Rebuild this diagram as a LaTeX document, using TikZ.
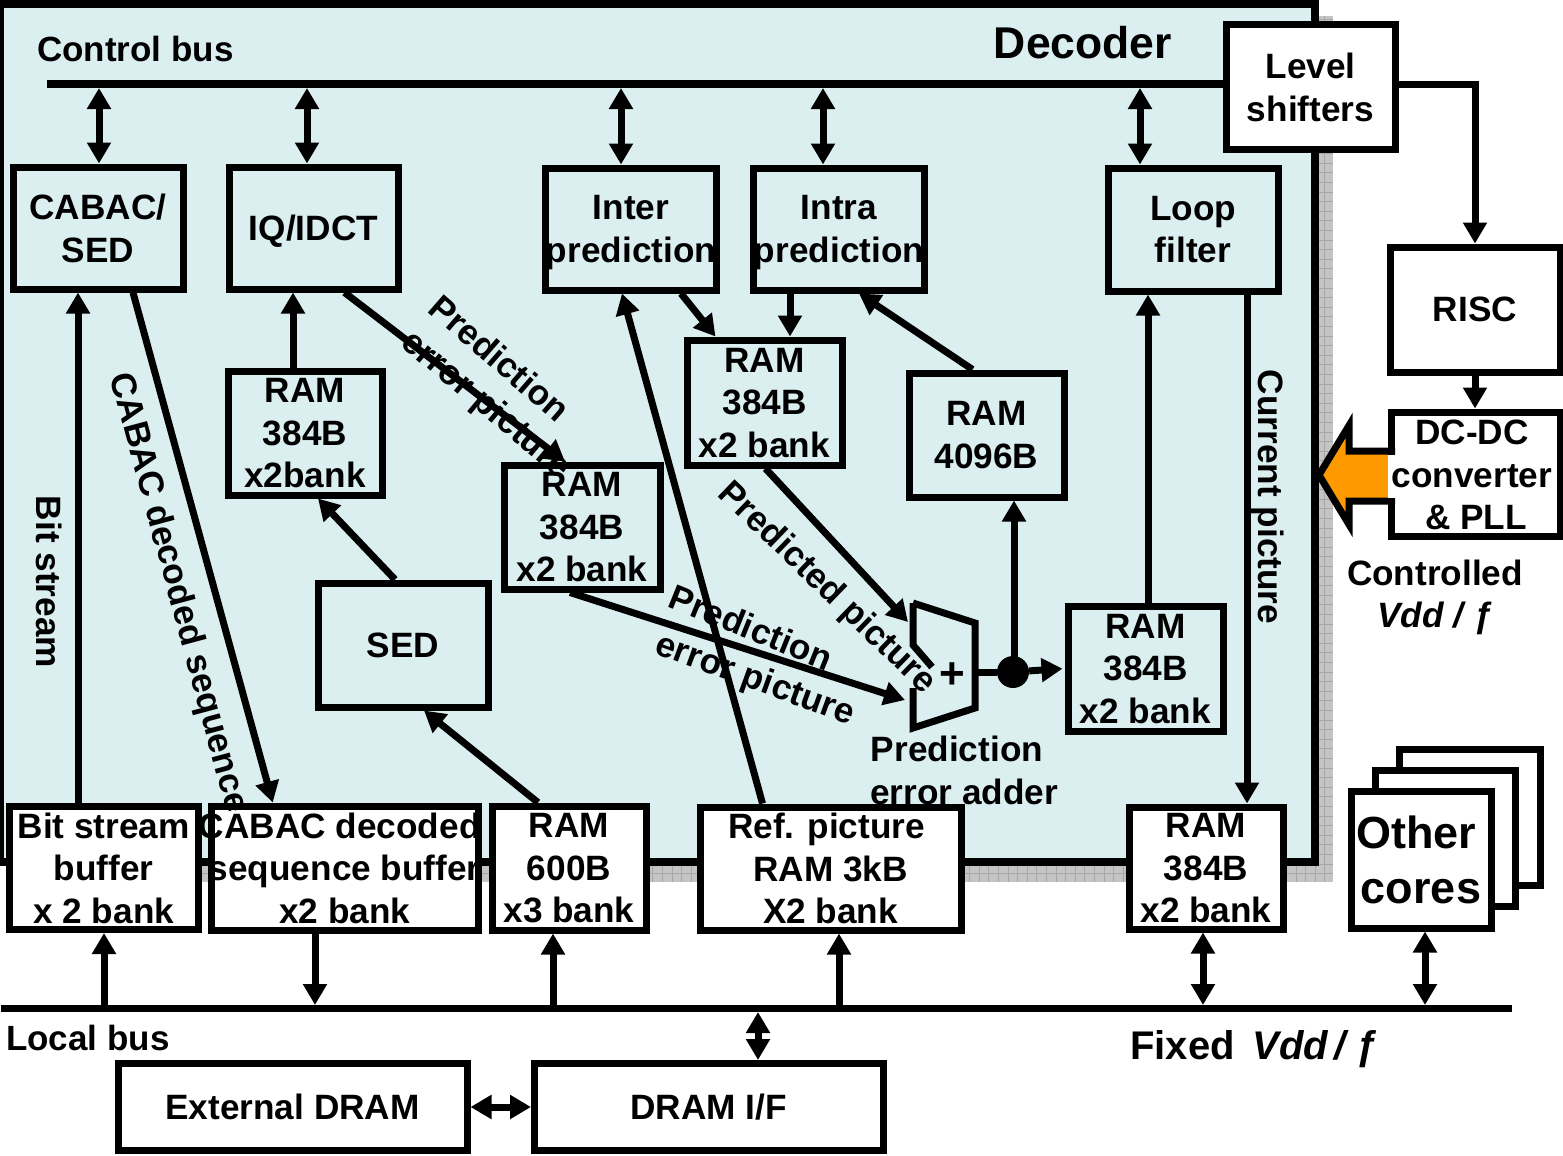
\documentclass[tikz,border=0pt]{standalone}
\usepackage{fontspec}
\setmainfont{Liberation Sans}
\usetikzlibrary{arrows.meta}
\definecolor{decoderfill}{HTML}{DCEFF0}
\definecolor{shadowfill}{HTML}{C4C4C4}
\definecolor{shadowgrid}{HTML}{A6A6A6}
\definecolor{vddorange}{HTML}{FF9900}
\newcommand{\boxfont}[1]{\fontsize{#1}{42.5}\selectfont\bfseries}
\begin{document}
\begin{tikzpicture}[x=1pt,y=-1pt,
  every node/.style={font=\boxfont{35.2},align=center,inner sep=0pt,text depth=-2pt},
  block/.style={draw,line width=7pt,minimum width=#1},
  whiteblock/.style={block=#1,fill=white},
  arr/.style={line width=7pt,-{Triangle[length=21pt,width=23pt]}},
  bidir/.style={line width=7pt,{Triangle[length=21pt,width=23pt]}-{Triangle[length=21pt,width=23pt]}},
  bus/.style={line width=7.5pt}]
\useasboundingbox (0,0) rectangle (1563,1156);
% decoder panel
\fill[shadowfill] (15,16) rectangle (1333,882);
\draw[shadowgrid,line width=1pt,step=9.6pt] (1318,16) grid (1333,882);
\draw[shadowgrid,line width=1pt,step=9.6pt] (15,866) grid (1333,882);
\draw[line width=8pt,fill=decoderfill] (0,4) rectangle (1315,862);
% control bus and blocks inside
\coordinate (ctrlbus) at (47,84);
\coordinate (ctrledge) at (47,88);
\node[whiteblock=169pt,minimum height=124pt] (level) at (1310.5,87) {Level\\shifters};
\draw[bus] (ctrlbus) -- (ctrlbus -| level.west);
\node[block=170pt,minimum height=122pt] (cabac) at (98,228) {CABAC/\\SED};
\node[block=169pt,minimum height=122pt] (iq) at (313.5,228) {IQ/IDCT};
\node[block=170pt,minimum height=122pt] (inter) at (631,229) {Inter\\prediction};
\node[block=170pt,minimum height=122pt] (intra) at (839,229) {Intra\\prediction};
\node[block=170pt,minimum height=123pt] (loop) at (1193,229.5) {Loop\\filter};
\node[block=154pt,minimum height=124pt] (rama) at (305,433) {RAM\\384B\\x2bank};
\node[block=156pt,minimum height=124pt] (ramb) at (582,527) {RAM\\384B\\x2 bank};
\node[block=155pt,minimum height=125pt] (ramc) at (764.5,402.5) {RAM\\384B\\x2 bank};
\node[block=155pt,minimum height=124pt] (ramd) at (986.5,435) {RAM\\4096B};
\node[block=170pt,minimum height=124pt] (sed) at (403,645) {SED};
\node[block=155pt,minimum height=125pt] (rame) at (1145.5,668.5) {RAM\\384B\\x2 bank};
% blocks on the decoder edge
\node[whiteblock=188.5pt,minimum height=123.5pt] (bitbuf) at (103.75,867.75) {Bit stream\\buffer\\x 2 bank};
\node[whiteblock=266.5pt,minimum height=124pt] (cabuf) at (344.75,868) {\makebox[0pt]{\kern-10pt CABAC decoded}\\\makebox[0pt]{sequence buffer}\\x2 bank};
\node[whiteblock=154pt,minimum height=124pt] (ramg) at (569,868) {RAM\\600B\\x3 bank};
\node[whiteblock=261pt,minimum height=123pt] (ref) at (830.5,868.5) {\hspace*{-8pt}Ref. picture\\RAM 3kB\\X2 bank};
\node[whiteblock=154pt,minimum height=122pt] (ramf) at (1206,868) {RAM\\384B\\x2 bank};
% outside the decoder
\node[whiteblock=170pt,minimum height=125pt] (risc) at (1475,309.5) {RISC};
\node[whiteblock=169pt,minimum height=124pt] (dcdc) at (1475.5,474) {};
\node[whiteblock=141pt,minimum height=136pt] (coreback) at (1469.5,817) {};
\node[whiteblock=140pt,minimum height=136pt] (coremid) at (1445,838) {};
\node[whiteblock=140pt,minimum height=137pt,font={\fontsize{45}{55}\selectfont\bfseries}] (others) at (1421,859.5) {\hspace*{-10pt}Other\\cores};
\node[whiteblock=349pt,minimum height=87pt] (extdram) at (292.5,1107) {External DRAM};
\node[whiteblock=348.5pt,minimum height=87pt] (dramif) at (708.75,1107) {DRAM I/F};
% orange supply arrow
\fill[vddorange] (1388,451) -- (1349,451) -- (1349,425.5) -- (1319,475) -- (1349,524.5) -- (1349,501) -- (1388,501) -- cycle;
\draw[line width=7pt] (1395,451) -- (1349,451) -- (1349,425.5) -- (1319,475) -- (1349,524.5) -- (1349,501) -- (1395,501);
\fill[white] (1388,454.5) rectangle (1396,497.5);
\node (dcdctext) at (1472,475) {DC-DC\\converter\\\hspace*{8pt}\&{} PLL};
% adder
\draw[line width=7pt] (913,603) -- (975,623) -- (975,708) -- (913,728) -- (913,688) (913,603) -- (913,645) -- (932,667);
\node[font=\boxfont{44}] (plus) at (952,676) {+};
\coordinate (addertop) at (908,622);
\coordinate (adderbot) at (905,700);
\coordinate (adderout) at (975,672);
\node[circle,fill=black,minimum size=32pt] (tap) at (1013,672) {};
% buses
\coordinate (localbusl) at (1,1008.5);
\coordinate (localbusr) at (1512,1008.5);
\coordinate (localtop) at (1,1005);
\coordinate (localbot) at (1,1012);
\draw[bus] (localbusl) -- (localbusr);
\foreach \x/\n in {99/cabac,307/iq,621/inter,823/intra,1140/loop}
  \draw[bidir] (\x,0 |- \n.north) -- (\x,0 |- ctrledge);
\foreach \x/\n in {104/bitbuf,553/ramg,839/ref}
  \draw[arr] (\x,0 |- localbusl) -- (\x,0 |- \n.south);
\draw[arr] (315,0 |- cabuf.south) -- (315,0 |- localtop);
\foreach \x/\n in {1203/ramf,1425/others}
  \draw[bidir] (\x,0 |- \n.south) -- (\x,0 |- localtop);
\draw[bidir] (758,0 |- localbot) -- (758,0 |- dramif.north);
\draw[bidir] (extdram.east) -- (dramif.west);
% data paths
\draw[arr] (78,0 |- bitbuf.north) -- (78,0 |- cabac.south);
\draw[arr] ([xshift=35pt]cabac.south) -- ([xshift=-72pt]cabuf.north);
\draw[arr] (293,0 |- rama.north) -- (293,0 |- iq.south);
\draw[arr] ([xshift=31pt]iq.south) -- ([xshift=-17pt]ramb.north);
\draw[arr] ([xshift=-8pt]sed.north) -- ([xshift=13pt]rama.south);
\draw[arr] ([xshift=-31pt]ramg.north) -- ([xshift=21pt]sed.south);
\draw[arr] ([xshift=-68pt]ref.north) -- ([xshift=-9pt]inter.south);
\draw[arr] ([xshift=50pt]inter.south) -- ([xshift=-49pt]ramc.north);
\draw[arr] (790,0 |- intra.south) -- (790,0 |- ramc.north);
\draw[arr] ([xshift=-14pt]ramd.north) -- ([xshift=20pt]intra.south);
\draw[arr] ([xshift=1pt]ramc.south) -- (addertop);
\draw[arr] ([xshift=-12pt]ramb.south) -- (adderbot);
\draw[line width=7pt] (adderout) -- (tap);
\draw[arr,shorten >=2pt] (tap) -- (rame.west);
\draw[arr] (1014,0 |- tap) -- (1014,0 |- ramd.south);
\draw[arr] (1148,0 |- rame.north) -- (1148,0 |- loop.south);
\draw[arr] (1247,0 |- loop.south) -- (1247,0 |- ramf.north);
\draw[arr] (ctrlbus -| level.east) -- (1475,84) -- (risc.north);
\draw[arr] (1475,0 |- risc.south) -- (1475,0 |- dcdc.north);
% labels
\node[font=\boxfont{35},anchor=west] (ctrllabel) at (37,49) {Control bus};
\node[font=\boxfont{44.5}] (decoderlabel) at (1083,42) {Decoder};
\node[font=\boxfont{35},anchor=west] (locallabel) at (6,1038) {Local bus};
\node[font=\boxfont{40},anchor=west] (fixedlabel) at (1130,1045) {Fixed\hspace{0.45em}\textit{Vdd}\hspace{0.15em}\textit{/}\hspace{0.15em}\textit{ƒ}};
\node (ctrldlabel) at (1435,593.5) {Controlled\\\textit{Vdd / ƒ}};
\node (adderlabel) at (957,770) {Prediction\\\hspace*{14pt}error adder};
\node[rotate=-90] (bitlabel) at (49,582) {Bit stream};
\node[rotate=-75] (seqlabel) at (181,592) {CABAC decoded sequence};
\node[rotate=-90] (curlabel) at (1271,497) {Current picture};
\node[rotate=-41] (perra) at (500,358) {Prediction};
\node[rotate=-40] (perrb) at (488,403) {error picture};
\node[rotate=-44] (predlabel) at (829,586) {Predicted picture};
\node[rotate=-22] (perrc) at (751,627) {Prediction};
\node[rotate=-20] (perrd) at (756,677) {error picture};
\end{tikzpicture}
\end{document}
